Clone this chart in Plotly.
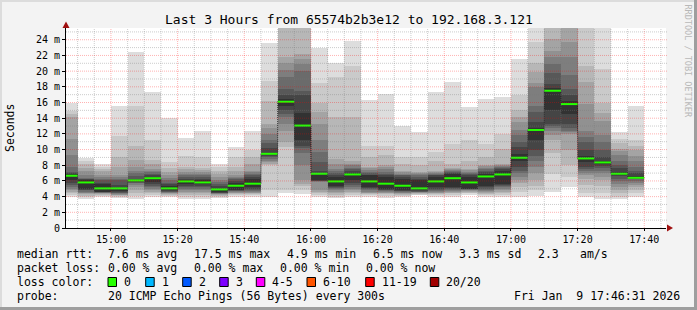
import plotly.graph_objects as go
from datetime import datetime, timedelta

# ---------------- data ----------------
DAY = "2026-01-09"
title_text = "Last 3 Hours from 65574b2b3e12 to 192.168.3.121"
range_start = "14:46:31"
range_end = "17:46:31"

slot_times = ["14:45", "14:50", "14:55", "15:00", "15:05", "15:10", "15:15", "15:20",
              "15:25", "15:30", "15:35", "15:40", "15:45", "15:50", "15:55", "16:00",
              "16:05", "16:10", "16:15", "16:20", "16:25", "16:30", "16:35", "16:40",
              "16:45", "16:50", "16:55", "17:00", "17:05", "17:10", "17:15", "17:20",
              "17:25", "17:30", "17:35"]

# median rtt per 5-minute slot (ms)
medians = [6.66, 5.81, 5.05, 5.05, 6.07, 6.35, 5.05, 5.94, 5.81, 4.92,
           5.39, 5.65, 9.46, 16.1, 13.06, 6.92, 5.94, 6.83, 5.94, 5.65,
           5.39, 5.05, 5.94, 6.35, 5.81, 6.57, 6.83, 8.96, 12.5, 17.5,
           15.8, 8.87, 8.36, 6.92, 6.4]

# 20 sorted ping rtts per slot (ms) -> smoke
smoke_pings = [
    [4.0, 4.2, 4.4, 4.6, 4.8, 5.0, 5.2, 5.5, 5.8, 6.1, 6.9, 7.0, 7.2, 7.8, 9.25, 11.4, 14.1, 14.55, 14.9, 16.0],
    [3.73, 4.0, 4.1, 4.3, 4.4, 4.5, 4.6, 4.8, 4.9, 5.0, 6.07, 6.2, 6.3, 6.4, 6.7, 7.3, 7.7, 8.1, 8.5, 8.87],
    [3.95, 4.1, 4.26, 4.35, 4.4, 4.45, 4.5, 4.55, 4.6, 4.6, 5.55, 5.8, 6.07, 6.3, 6.5, 6.8, 7.3, 7.5, 7.8, 8.17],
    [3.86, 4.0, 4.1, 4.15, 4.2, 4.3, 4.4, 4.5, 4.6, 4.7, 5.1, 5.5, 6.07, 6.3, 6.5, 6.7, 7.8, 9.1, 11.7, 15.5],
    [3.75, 4.1, 4.5, 4.9, 5.2, 5.5, 5.7, 5.8, 5.9, 6.0, 6.1, 6.3, 6.6, 7.0, 7.3, 7.8, 8.7, 10.5, 15.6, 22.4],
    [3.95, 4.2, 4.4, 4.6, 4.8, 5.0, 5.2, 5.4, 5.6, 5.9, 6.5, 6.7, 6.9, 7.1, 7.3, 7.55, 8.2, 8.7, 11.25, 17.3],
    [3.95, 4.1, 4.2, 4.3, 4.4, 4.5, 4.55, 4.6, 4.7, 4.8, 5.3, 5.6, 5.8, 6.07, 6.4, 6.8, 7.1, 7.7, 8.4, 14.05],
    [3.73, 4.0, 4.2, 4.4, 4.6, 4.8, 5.0, 5.2, 5.4, 5.6, 6.1, 6.3, 6.5, 6.7, 6.9, 7.1, 7.5, 7.8, 9.2, 11.5],
    [3.73, 4.0, 4.2, 4.4, 4.6, 4.8, 5.0, 5.2, 5.4, 5.6, 6.07, 6.3, 6.5, 6.7, 6.9, 7.1, 7.4, 7.7, 9.1, 12.4],
    [3.86, 4.0, 4.1, 4.2, 4.3, 4.35, 4.4, 4.45, 4.5, 4.6, 5.0, 5.3, 5.6, 5.9, 6.07, 6.5, 6.9, 7.3, 7.8, 8.17],
    [3.95, 4.2, 4.3, 4.4, 4.5, 4.6, 4.7, 4.75, 4.8, 4.9, 5.8, 6.0, 6.2, 6.4, 6.5, 6.7, 7.3, 7.8, 9.1, 10.3],
    [3.95, 4.2, 4.3, 4.4, 4.5, 4.6, 4.7, 4.8, 5.0, 5.2, 6.2, 6.5, 6.7, 6.9, 7.1, 7.3, 8.2, 9.0, 9.97, 12.35],
    [3.95, 4.8, 8.0, 8.2, 8.4, 8.6, 8.8, 9.0, 9.2, 9.4, 9.6, 10.2, 10.8, 11.2, 12.0, 12.7, 13.3, 16.2, 18.8, 23.6],
    [4.4, 4.8, 10.3, 10.95, 12.4, 13.3, 14.1, 14.5, 15.0, 15.6, 16.5, 16.9, 17.7, 19.2, 20.1, 21.0, 21.8, 26.5, 28.0, 30.0],
    [4.3, 4.8, 5.3, 5.65, 6.07, 8.0, 9.5, 10.2, 10.5, 11.2, 14.6, 16.9, 17.5, 20.0, 20.9, 21.5, 22.2, 26.0, 27.5, 30.0],
    [3.95, 4.2, 4.4, 4.6, 4.8, 5.9, 5.95, 6.0, 6.05, 6.07, 7.0, 7.3, 8.4, 9.7, 11.2, 13.3, 14.8, 16.0, 18.5, 23.0],
    [3.86, 4.0, 4.2, 4.4, 4.6, 4.8, 5.0, 5.1, 5.2, 5.3, 6.5, 6.8, 7.0, 7.3, 7.55, 8.2, 8.8, 14.1, 19.2, 21.0],
    [3.95, 4.2, 4.4, 4.6, 4.8, 5.0, 5.2, 5.5, 5.8, 6.07, 7.0, 7.3, 7.5, 7.7, 8.0, 8.2, 8.6, 14.1, 20.7, 23.8],
    [3.95, 4.2, 4.3, 4.4, 4.5, 4.6, 4.8, 5.0, 5.1, 5.2, 6.7, 6.8, 7.0, 7.2, 7.4, 7.6, 7.8, 9.0, 10.5, 16.3],
    [3.86, 4.1, 4.3, 4.4, 4.5, 4.6, 4.7, 4.8, 4.9, 5.0, 6.5, 6.7, 6.9, 7.2, 7.5, 7.8, 8.0, 9.25, 10.5, 17.1],
    [3.95, 4.1, 4.2, 4.3, 4.4, 4.5, 4.6, 4.7, 4.75, 4.8, 6.3, 6.5, 6.7, 6.8, 6.9, 7.1, 7.3, 8.2, 9.0, 12.95],
    [4.15, 4.25, 4.35, 4.4, 4.5, 4.55, 4.6, 4.65, 4.7, 4.8, 6.07, 6.3, 6.5, 6.7, 6.9, 7.0, 7.1, 8.0, 9.0, 12.2],
    [3.95, 4.2, 4.3, 4.4, 4.5, 4.6, 4.7, 4.8, 5.0, 5.2, 6.5, 6.7, 6.8, 6.9, 7.0, 7.2, 7.3, 8.6, 9.7, 17.3],
    [3.95, 4.2, 4.4, 4.5, 4.6, 4.7, 4.8, 5.0, 5.1, 5.2, 6.9, 7.0, 7.2, 7.3, 7.4, 7.5, 7.7, 8.2, 10.7, 18.6],
    [4.26, 4.4, 4.5, 4.6, 4.7, 4.8, 4.9, 5.0, 5.0, 5.0, 6.5, 6.7, 6.9, 7.0, 7.2, 7.4, 7.55, 8.6, 11.25, 15.4],
    [3.95, 4.2, 4.3, 4.4, 4.6, 4.7, 4.8, 5.0, 5.2, 5.4, 6.9, 7.1, 7.3, 7.5, 7.7, 7.9, 8.0, 9.0, 10.7, 16.5],
    [3.95, 4.2, 4.4, 4.6, 4.8, 5.0, 5.2, 5.4, 5.5, 5.65, 7.3, 7.5, 7.6, 7.8, 7.9, 8.0, 8.2, 10.1, 12.0, 16.7],
    [3.95, 4.6, 5.2, 5.7, 6.07, 6.5, 7.0, 7.3, 7.8, 8.6, 9.4, 10.3, 11.0, 11.8, 12.5, 13.5, 14.2, 15.0, 16.9, 21.6],
    [4.03, 4.8, 5.4, 6.07, 7.0, 7.8, 8.6, 9.2, 10.0, 11.2, 12.8, 13.5, 14.8, 15.6, 17.96, 18.5, 19.9, 21.0, 23.7, 27.0],
    [4.58, 6.9, 9.5, 11.2, 11.8, 12.4, 12.8, 13.0, 13.3, 15.0, 17.8, 18.4, 19.7, 20.9, 21.8, 22.6, 24.1, 27.0, 29.0, 31.0],
    [5.2, 6.5, 8.0, 10.0, 12.0, 12.2, 12.4, 12.8, 13.3, 14.5, 16.2, 16.9, 17.7, 19.5, 21.8, 23.7, 26.0, 27.5, 29.0, 31.0],
    [3.95, 4.4, 5.5, 6.2, 6.7, 7.0, 7.3, 7.5, 7.8, 8.4, 9.2, 10.0, 11.0, 11.6, 12.4, 15.8, 18.6, 20.7, 27.0, 29.0],
    [3.75, 4.5, 5.3, 6.07, 6.5, 7.0, 7.3, 7.6, 7.9, 8.2, 8.6, 9.0, 10.0, 11.0, 11.8, 13.7, 14.6, 16.0, 20.3, 27.0],
    [3.65, 4.0, 4.4, 4.8, 5.2, 5.65, 6.0, 6.3, 6.6, 6.8, 7.1, 7.6, 8.0, 8.6, 9.3, 9.8, 10.1, 10.8, 11.4, 12.2],
    [3.95, 4.4, 4.8, 5.2, 5.5, 5.8, 6.0, 6.2, 6.3, 6.4, 6.6, 7.0, 7.3, 7.8, 8.6, 9.2, 9.9, 10.5, 11.2, 15.6],
]

y_tick_values = [0, 2, 4, 6, 8, 10, 12, 14, 16, 18, 20, 22, 24]
y_tick_labels = ["0", "2 m", "4 m", "6 m", "8 m", "10 m", "12 m", "14 m", "16 m",
                 "18 m", "20 m", "22 m", "24 m"]
y_max = 25.5

rtt_label = "median rtt:"
rtt_stats = ["7.6 ms avg", "17.5 ms max", "4.9 ms min", "6.5 ms now", "3.3 ms sd", "2.3", "am/s"]
loss_label = "packet loss:"
loss_stats = ["0.00 % avg", "0.00 % max", "0.00 % min", "0.00 % now"]
color_label = "loss color:"
loss_names = ["0", "1", "2", "3", "4-5", "6-10", "11-19", "20/20"]
loss_colors = ["#26ff00", "#00b8ff", "#0059ff", "#7e00ff", "#ff00ff", "#ff5500", "#ff0000", "#a10000"]
probe_label = "probe:"
probe_text = "20 ICMP Echo Pings (56 Bytes) every 300s"
stamp_text = "Fri Jan\u00a0\u00a09 17:46:31 2026"
side_text = "RRDTOOL / TOBI OETIKER"

# ---------------- layout geometry ----------------
W, H = 697, 310
L, T, PW, PH = 66, 28, 600, 200
R, B = W - L - PW, H - T - PH
MONO = "DejaVu Sans Mono"


def fx(px):
    return (px - L) / PW


def fy(py):
    return 1 - (py - T) / PH


def ts(hm):
    fmt = "%Y-%m-%d %H:%M:%S" if hm.count(":") == 2 else "%Y-%m-%d %H:%M"
    return datetime.strptime(f"{DAY} {hm}", fmt)


starts = [ts(s) for s in slot_times]
step = timedelta(seconds=300)
centers = [s + step / 2 for s in starts]
ends = [s + step for s in starts]
pings = [sorted(p) for p in smoke_pings]

fig = go.Figure()

# smoke: 10 nested rings, outer lightest to inner darkest
half = 10
for ii in range(1, half + 1):
    c = int(190 / half * (half - ii)) + 50
    lo = [p[ii - 1] for p in pings]
    hi = [p[20 - ii] for p in pings]
    fig.add_trace(go.Bar(
        x=centers, base=lo, y=[h - l for h, l in zip(hi, lo)],
        width=300000, marker=dict(color=f"rgb({c},{c},{c})", line=dict(width=0)),
        showlegend=False, hoverinfo="skip"))

# median step line (dark, dotted) + green loss-colored segments
fig.add_trace(go.Scatter(
    x=starts + [ends[-1]], y=medians + [medians[-1]], mode="lines",
    line=dict(shape="hv", color="#202020", width=1, dash="1px,1px"),
    showlegend=False, hoverinfo="skip"))
gx, gy = [], []
for s, e, m in zip(starts, ends, medians):
    gx += [s, e, None]
    gy += [m, m, None]
fig.add_trace(go.Scatter(x=gx, y=gy, mode="lines",
                         line=dict(color=loss_colors[0], width=2),
                         showlegend=False, hoverinfo="skip"))

shapes = []
MAJOR_COL = "rgba(255,0,0,0.30)"
MINOR_COL = "rgba(120,120,120,0.38)"
# grid (drawn above the smoke like rrdtool)
t = ts("14:50")
t_end = ts(range_end)
while t <= t_end:
    major = t.minute % 20 == 0
    shapes.append(dict(type="line", xref="x", yref="paper", x0=t, x1=t, y0=0, y1=1,
                       layer="above",
                       line=dict(color=MAJOR_COL if major else MINOR_COL, width=1, dash="1px,1px")))
    t += timedelta(minutes=5)
for v in range(1, int(y_max) + 1):
    major = v % 2 == 0
    shapes.append(dict(type="line", xref="paper", yref="y", x0=0, x1=fx(668), y0=v, y1=v,
                       layer="above",
                       line=dict(color=MAJOR_COL if major else MINOR_COL, width=1, dash="1px,1px")))

# axis arrows
arrow_col = "#a01010"
shapes.append(dict(type="path", xref="paper", yref="paper", layer="above",
                   path=f"M {fx(667)},{fy(224.5)} L {fx(673)},{fy(228)} L {fx(667)},{fy(231.5)} Z",
                   fillcolor=arrow_col, line=dict(width=0)))
shapes.append(dict(type="path", xref="paper", yref="paper", layer="above",
                   path=f"M {fx(62.5)},{fy(28)} L {fx(66)},{fy(21.5)} L {fx(69.5)},{fy(28)} Z",
                   fillcolor=arrow_col, line=dict(width=0)))

# frame / bevel
shapes.append(dict(type="line", xref="paper", yref="paper", x0=fx(0), x1=fx(W), y0=fy(1), y1=fy(1),
                   line=dict(color="#dcdcdc", width=2)))
shapes.append(dict(type="line", xref="paper", yref="paper", x0=fx(1), x1=fx(1), y0=fy(0), y1=fy(H),
                   line=dict(color="#dcdcdc", width=2)))
shapes.append(dict(type="line", xref="paper", yref="paper", x0=fx(0), x1=fx(W), y0=fy(H - 1.5), y1=fy(H - 1.5),
                   line=dict(color="#9e9e9e", width=3)))
shapes.append(dict(type="line", xref="paper", yref="paper", x0=fx(W - 1.5), x1=fx(W - 1.5), y0=fy(0), y1=fy(H),
                   line=dict(color="#9e9e9e", width=3)))

annotations = []


def txt(x, y, s, size=11.5, color="#000000", anchor="left", angle=0):
    annotations.append(dict(xref="paper", yref="paper", x=fx(x), y=fy(y), text=s,
                            showarrow=False, xanchor=anchor, yanchor="middle",
                            textangle=angle, borderpad=0,
                            font=dict(family=MONO, size=size, color=color)))


txt(348.5, 19, title_text, size=13, anchor="center")
txt(10, 128, "Seconds", size=11.5, anchor="center", angle=-90)
txt(687.5, 61, side_text, size=8.5, color="#b8b8b8", anchor="center", angle=90)

# legend rows
row_y = [254, 268, 282, 296]
txt(16, row_y[0], rtt_label)
for xp, s in zip([107.3, 193, 286, 372.3, 458.3, 536.7, 579.3], rtt_stats):
    txt(xp, row_y[0], s)
txt(16, row_y[1], loss_label)
for xp, s in zip([107.3, 193.3, 279.3, 365], loss_stats):
    txt(xp, row_y[1], s)
txt(16, row_y[2], color_label)
sq_x = [108, 145.7, 182.7, 219.7, 256.3, 307, 365.7, 430.3]
for xp, name, col in zip(sq_x, loss_names, loss_colors):
    shapes.append(dict(type="rect", xref="paper", yref="paper",
                       x0=fx(xp), x1=fx(xp + 8.5), y0=fy(286.5), y1=fy(277.5),
                       fillcolor=col, line=dict(color="#000000", width=1)))
    txt(xp + 15, row_y[2], name)
txt(16, row_y[3], probe_label)
txt(107.3, row_y[3], probe_text)
txt(513.3, row_y[3], stamp_text)

fig.update_layout(
    width=W, height=H,
    margin=dict(l=L, r=R, t=T, b=B, pad=0),
    paper_bgcolor="#f3f3f3", plot_bgcolor="#ffffff",
    barmode="overlay", bargap=0, showlegend=False,
    shapes=shapes, annotations=annotations,
    xaxis=dict(type="date", range=[ts(range_start), ts(range_end)],
               showgrid=False, zeroline=False,
               tick0=ts("15:00"), dtick=1200000, tickformat="%H:%M",
               ticks="outside", ticklen=2, tickcolor="#000000",
               tickfont=dict(family=MONO, size=10, color="#000000"),
               showline=True, linecolor="#000000", linewidth=1, fixedrange=True),
    yaxis=dict(range=[0, y_max], showgrid=False, zeroline=False,
               tickvals=y_tick_values, ticktext=y_tick_labels,
               ticks="outside", ticklen=3, tickcolor="#000000",
               tickfont=dict(family=MONO, size=10, color="#000000"),
               showline=True, linecolor="#000000", linewidth=1, fixedrange=True),
)

fig.write_html("out.html")
